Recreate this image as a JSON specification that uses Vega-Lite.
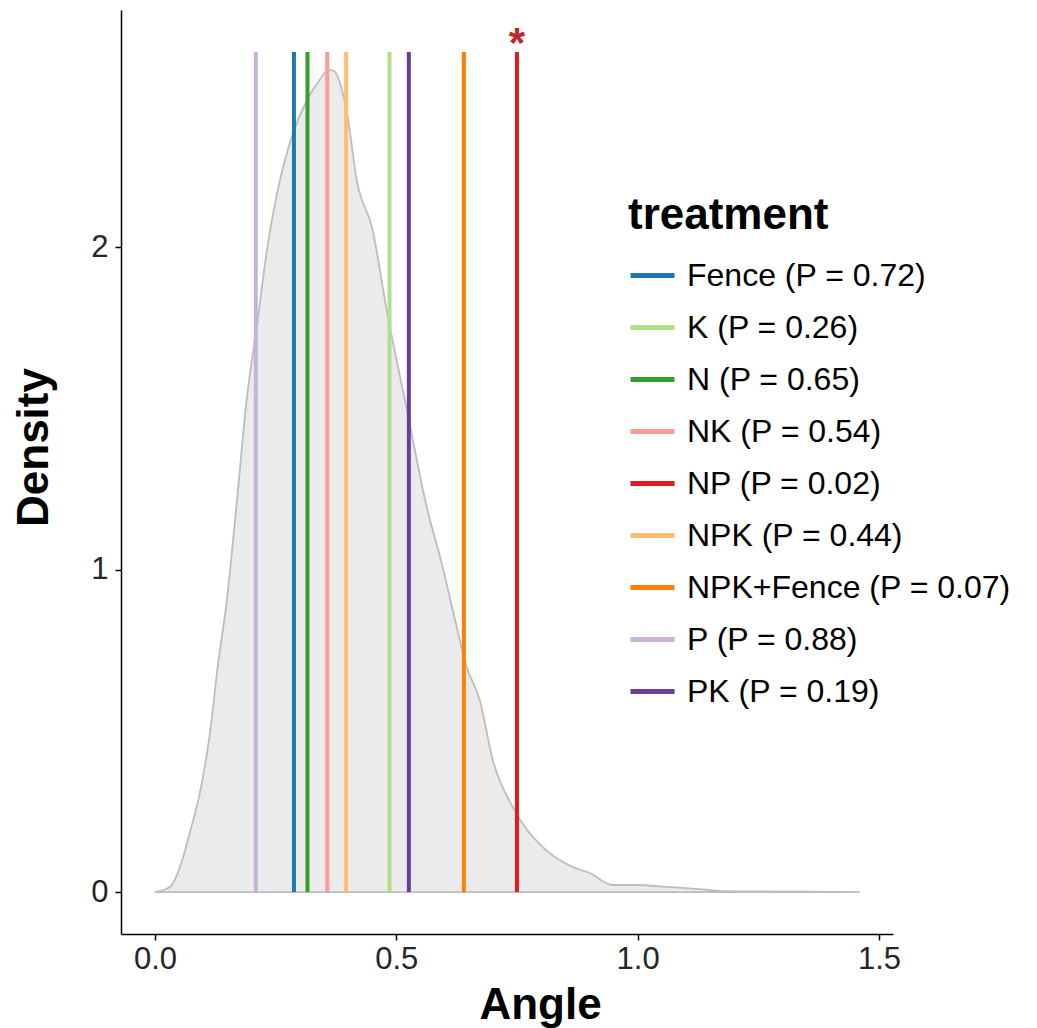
{
  "$schema": "https://vega.github.io/schema/vega-lite/v6.json",
  "width": 772,
  "height": 924,
  "autosize": {"type": "none"},
  "padding": {"left": 121, "top": 10, "right": 144, "bottom": 94},
  "background": "white",
  "config": {
    "font": "Liberation Sans",
    "view": {"stroke": null},
    "axis": {
      "grid": false,
      "domainColor": "black",
      "domainWidth": 1.5,
      "tickColor": "black",
      "tickWidth": 1.5,
      "tickSize": 6,
      "labelFontSize": 31,
      "labelColor": "#262626",
      "titleFontSize": 44,
      "titleFontWeight": "bold",
      "titleColor": "black"
    }
  },
  "datasets": {
    "density": [
      {"angle": 0.0, "density": 0.0},
      {"angle": 0.031, "density": 0.016},
      {"angle": 0.052, "density": 0.078},
      {"angle": 0.072, "density": 0.183},
      {"angle": 0.093, "density": 0.307},
      {"angle": 0.114, "density": 0.493},
      {"angle": 0.130, "density": 0.698},
      {"angle": 0.149, "density": 0.905},
      {"angle": 0.170, "density": 1.216},
      {"angle": 0.190, "density": 1.526},
      {"angle": 0.213, "density": 1.774},
      {"angle": 0.232, "density": 1.991},
      {"angle": 0.253, "density": 2.167},
      {"angle": 0.286, "density": 2.353},
      {"angle": 0.315, "density": 2.456},
      {"angle": 0.342, "density": 2.520},
      {"angle": 0.360, "density": 2.550},
      {"angle": 0.372, "density": 2.545},
      {"angle": 0.385, "density": 2.500},
      {"angle": 0.398, "density": 2.415},
      {"angle": 0.418, "density": 2.208},
      {"angle": 0.451, "density": 2.053},
      {"angle": 0.480, "density": 1.805},
      {"angle": 0.522, "density": 1.495},
      {"angle": 0.563, "density": 1.194},
      {"angle": 0.596, "density": 1.008},
      {"angle": 0.617, "density": 0.874},
      {"angle": 0.646, "density": 0.698},
      {"angle": 0.673, "density": 0.595},
      {"angle": 0.700, "density": 0.409},
      {"angle": 0.741, "density": 0.264},
      {"angle": 0.803, "density": 0.140},
      {"angle": 0.865, "density": 0.078},
      {"angle": 0.901, "density": 0.059},
      {"angle": 0.948, "density": 0.022},
      {"angle": 0.998, "density": 0.022},
      {"angle": 1.060, "density": 0.016},
      {"angle": 1.128, "density": 0.009},
      {"angle": 1.176, "density": 0.003},
      {"angle": 1.267, "density": 0.002},
      {"angle": 1.460, "density": 0.0}
    ],
    "lines": [
      {"treatment": "Fence", "label": "Fence (P = 0.72)", "angle": 0.288, "sig": false},
      {"treatment": "K", "label": "K (P = 0.26)", "angle": 0.486, "sig": false},
      {"treatment": "N", "label": "N (P = 0.65)", "angle": 0.316, "sig": false},
      {"treatment": "NK", "label": "NK (P = 0.54)", "angle": 0.357, "sig": false},
      {"treatment": "NP", "label": "NP (P = 0.02)", "angle": 0.750, "sig": true},
      {"treatment": "NPK", "label": "NPK (P = 0.44)", "angle": 0.396, "sig": false},
      {"treatment": "NPK+Fence", "label": "NPK+Fence (P = 0.07)", "angle": 0.640, "sig": false},
      {"treatment": "P", "label": "P (P = 0.88)", "angle": 0.209, "sig": false},
      {"treatment": "PK", "label": "PK (P = 0.19)", "angle": 0.526, "sig": false}
    ]
  },
  "layer": [
    {
      "data": {"name": "density"},
      "mark": {"type": "area", "fill": "#ebebeb", "stroke": "#bdbdbd", "strokeWidth": 1.8, "interpolate": "monotone"},
      "encoding": {
        "x": {
          "field": "angle", "type": "quantitative",
          "scale": {"domain": [-0.0703, 1.529], "nice": false, "zero": false},
          "axis": {"title": "Angle", "values": [0, 0.5, 1, 1.5], "format": ".1f", "labelPadding": 4, "titleX": 419, "titleY": 84, "titleBaseline": "alphabetic", "titleAnchor": "middle"}
        },
        "y": {
          "field": "density", "type": "quantitative",
          "scale": {"domain": [-0.13, 2.735], "nice": false, "zero": false},
          "axis": {"title": "Density", "values": [0, 1, 2], "format": "d", "labelPadding": 7, "titleX": -74, "titleY": 437, "titleBaseline": "alphabetic", "titleAnchor": "middle", "titleAngle": 270}
        }
      }
    },
    {
      "data": {"name": "lines"},
      "mark": {"type": "rule", "strokeWidth": 4},
      "encoding": {
        "x": {"field": "angle", "type": "quantitative"},
        "y": {"datum": 0},
        "y2": {"datum": 2.605},
        "color": {
          "field": "label", "type": "nominal",
          "scale": {
            "domain": ["Fence (P = 0.72)", "K (P = 0.26)", "N (P = 0.65)", "NK (P = 0.54)", "NP (P = 0.02)", "NPK (P = 0.44)", "NPK+Fence (P = 0.07)", "P (P = 0.88)", "PK (P = 0.19)"],
            "range": ["#1f78b4", "#b2df8a", "#33a02c", "#fb9a99", "#e31a1c", "#fdbf6f", "#ff7f00", "#cab2d6", "#6a3d9a"]
          },
          "legend": {
            "title": "treatment",
            "orient": "none",
            "legendX": 507,
            "legendY": 184,
            "titleFontSize": 44,
            "titleFontWeight": "bold",
            "titleColor": "black",
            "titleLimit": 1000,
            "titlePadding": 13,
            "labelFontSize": 32,
            "labelColor": "black",
            "labelLimit": 600,
            "labelOffset": 10,
            "symbolType": "stroke",
            "symbolSize": 1936,
            "symbolStrokeWidth": 5,
            "rowPadding": 11
          }
        }
      }
    },
    {
      "data": {"name": "lines"},
      "transform": [{"filter": "datum.sig"}],
      "mark": {"type": "text", "text": "*", "fontSize": 42, "fontWeight": "bold", "color": "#c0272d", "align": "center", "baseline": "alphabetic"},
      "encoding": {
        "x": {"field": "angle", "type": "quantitative"},
        "y": {"datum": 2.59}
      }
    }
  ]
}
